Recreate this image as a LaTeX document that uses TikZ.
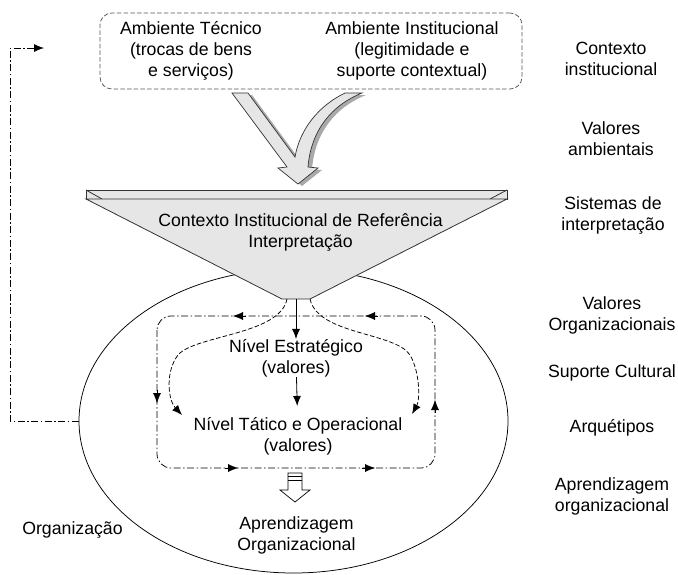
\documentclass[tikz,border=0pt]{standalone}
\usepackage{fontspec}
\setmainfont{Liberation Sans}
\usetikzlibrary{shapes.geometric,arrows.meta}
\definecolor{fillg}{HTML}{E6E6E6}
\definecolor{shad}{HTML}{A9A9A9}
\definecolor{edgec}{HTML}{333333}
\definecolor{boxc}{HTML}{555555}
\begin{document}
\begin{tikzpicture}[x=1pt,y=-1pt,
  every node/.style={font=\fontsize{17.7}{21}\selectfont, align=center, inner sep=0pt},
  dd/.style={dash pattern=on 7pt off 2.5pt on 1.5pt off 2.5pt, line width=0.75pt},
  dsh/.style={dash pattern=on 4.5pt off 2.2pt, line width=0.75pt},
  tip/.style={-{Latex[length=10pt,width=8pt]}},
  plate/.style={draw=edgec, fill=fillg, line width=0.8pt},
]
\useasboundingbox (0,0) rectangle (678,574);

% organisation ellipse
\node[ellipse, draw, line width=0.75pt, minimum width=429pt, minimum height=304pt] (org) at (293.5,421) {};

% feedback line
\coordinate (fbend) at (44,48);
\draw[dd, tip] (org.west) -- (10,421) -- (10,48) -- (fbend);

% top box
\node[draw=boxc, dsh, rounded corners=12pt, minimum width=422pt, minimum height=76pt] (topbox) at (311,51) {};
\node (tec) at (191,51) {Ambiente Técnico\\(trocas de bens\\e serviços)};
\node (ins) at (412,51) {Ambiente Institucional\\(legitimidade e\\suporte contextual)};

% V shaped block arrow (shadow + body)
\fill[shad, shift={(4,2)}] (232,93) -- (287,167) -- (278,168) -- (298,184) -- (318,168) -- (308,167)
  .. controls (311,130) and (332,105) .. (362,93) -- (345,93)
  .. controls (320,105) and (300,128) .. (295,157) -- (248,93) -- cycle;
\draw[plate, line width=0.7pt] (232,93) -- (287,167) -- (278,168) -- (298,184) -- (318,168) -- (308,167)
  .. controls (311,130) and (332,105) .. (362,93) -- (345,93)
  .. controls (320,105) and (300,128) .. (295,157) -- (248,93) -- cycle;

% funnel
\draw[plate] (86,190) rectangle (507,199);
\draw[edgec, line width=0.8pt] (86,190) -- (102,199) (507,190) -- (490,199);
\draw[plate] (86,199) -- (507,199) -- (310,299) -- (282,299) -- cycle;
\coordinate (fb) at (296,299);
\node (cir) at (300.5,232) {Contexto Institucional de Referência\\Interpretação};

% levels
\node (est) at (296,358) {Nível Estratégico\\(valores)};
\node (tat) at (298,436) {Nível Tático e Operacional\\(valores)};
\draw[tip, line width=0.8pt] (fb) -- (est);
\draw[tip, line width=0.8pt, shorten >=11pt] (est) -- (tat);

% dash-dot loop
\draw[dd, rounded corners=14pt] (157,316) rectangle (435,468);
\draw[tip] (246,316) -- (233,316);
\draw[tip] (378,316) -- (365,316);
\draw[tip] (157,390) -- (157,403);
\draw[tip] (435,413) -- (435,400);
\draw[tip] (225,468) -- (238,468);
\draw[tip] (362,468) -- (375,468);

% dashed curves
\draw[dsh, tip] (287,299) .. controls (280,335) and (195,335) .. (178,355)
  .. controls (165,372) and (168,400) .. (182,415);
\draw[dsh, tip] (310,299) .. controls (318,335) and (395,332) .. (410,355)
  .. controls (420,372) and (420,400) .. (412,414);

% hollow arrow
\draw[line width=0.7pt, fill=white] (288,473) -- (302,473) -- (302,490) -- (310,490) -- (295,502) -- (280,490) -- (288,490) -- cycle;
\draw[line width=0.7pt] (288,476.5) -- (302,476.5) (288,480) -- (302,480);

\node (apr) at (296.5,535) {Aprendizagem\\Organizacional};
\node (orgl) at (72.5,530) {Organização};

% right column
\node (r1) at (611,59) {Contexto\\institucional};
\node (r2) at (611,139) {Valores\\ambientais};
\node (r3) at (613,215) {Sistemas de\\interpretação};
\node (r4) at (612,315) {Valores\\Organizacionais};
\node (r5) at (612,373) {Suporte Cultural};
\node (r6) at (612,428) {Arquétipos};
\node (r7) at (612,496) {Aprendizagem\\organizacional};
\end{tikzpicture}
\end{document}
